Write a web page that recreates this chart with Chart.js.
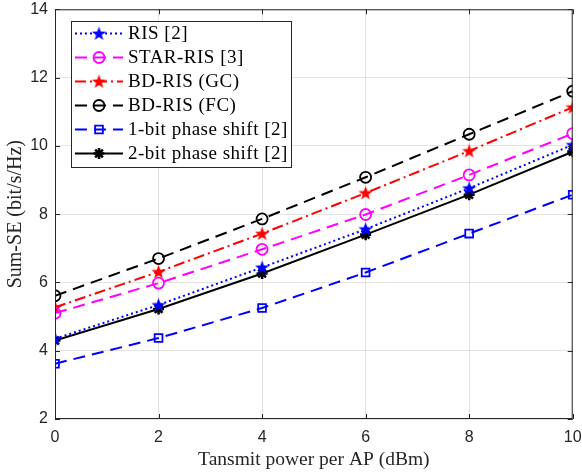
<!DOCTYPE html>
<html>
<head>
<meta charset="utf-8">
<script src="https://cdn.jsdelivr.net/npm/chart.js@4.4.1/dist/chart.umd.min.js"></script>
<style>
  html, body { margin: 0; padding: 0; background: #fff; }
  #wrap { width: 582px; height: 474px; }
</style>
</head>
<body>
<div id="wrap"><canvas id="grafico" width="582" height="474"></canvas></div>
<script>
const potencias = [0, 2, 4, 6, 8, 10];
const yTicks = [2, 4, 6, 8, 10, 12, 14];

const ris      = [4.35, 5.34, 6.44, 7.56, 8.76, 10.03];
const starRis  = [5.10, 5.98, 6.97, 7.99, 9.15, 10.36];
const bdGC     = [5.27, 6.31, 7.43, 8.62, 9.85, 11.13];
const bdFC     = [5.61, 6.70, 7.86, 9.08, 10.34, 11.60];
const bit1     = [3.62, 4.37, 5.25, 6.29, 7.43, 8.57];
const bit2     = [4.30, 5.22, 6.26, 7.40, 8.57, 9.83];

const nomes = ['RIS [2]', 'STAR-RIS [3]', 'BD-RIS (GC)', 'BD-RIS (FC)', '1-bit phase shift [2]', '2-bit phase shift [2]'];

// estrela de 5 pontas preenchida (pentagram do MATLAB)
function criarEstrela(cor, tam) {
  const c = document.createElement('canvas');
  c.width = tam; c.height = tam;
  const ctx = c.getContext('2d');
  const R = tam / 2, r = R * 0.4, cx = tam / 2, cy = tam / 2 + 0.5;
  ctx.beginPath();
  for (let i = 0; i < 10; i++) {
    const ang = -Math.PI / 2 + i * Math.PI / 5;
    const rr = i % 2 === 0 ? R : r;
    const px = cx + rr * Math.cos(ang), py = cy + rr * Math.sin(ang);
    i === 0 ? ctx.moveTo(px, py) : ctx.lineTo(px, py);
  }
  ctx.closePath();
  ctx.fillStyle = cor;
  ctx.fill();
  return c;
}

const estrelaAzul = criarEstrela('#0000ff', 15);
const estrelaVermelha = criarEstrela('#ff0000', 15);

const pts = arr => arr.map((v, i) => ({ x: potencias[i], y: v }));

const base = { borderWidth: 2, pointBorderWidth: 1.8, pointBackgroundColor: 'transparent', tension: 0, fill: false };

const datasets = [
  { ...base, label: nomes[0], data: pts(ris), borderColor: '#0000ff', borderDash: [2, 3],
    pointStyle: estrelaAzul, pointRadius: 7.5, pointBorderColor: '#0000ff' },
  { ...base, label: nomes[1], data: pts(starRis), borderColor: '#ff00ff', borderDash: [12, 7],
    pointStyle: 'circle', pointRadius: 5.5, pointBorderColor: '#ff00ff' },
  { ...base, label: nomes[2], data: pts(bdGC), borderColor: '#ff0000', borderDash: [11, 4, 2, 4],
    pointStyle: estrelaVermelha, pointRadius: 7.5, pointBorderColor: '#ff0000' },
  { ...base, label: nomes[3], data: pts(bdFC), borderColor: '#000000', borderDash: [12, 7],
    pointStyle: 'circle', pointRadius: 5.5, pointBorderColor: '#000000' },
  { ...base, label: nomes[4], data: pts(bit1), borderColor: '#0000ff', borderDash: [12, 7],
    pointStyle: 'rect', pointRadius: 5.5, pointBorderColor: '#0000ff' },
  { ...base, label: nomes[5], data: pts(bit2), borderColor: '#000000', borderDash: [],
    pointStyle: 'star', pointRadius: 5.5, pointBorderWidth: 2.6, pointBorderColor: '#000000' },
];

const corEixo = '#262626';

const pluginMoldura = {
  id: 'moldura',
  afterDatasetsDraw(chart) {
    const { ctx, chartArea: a, scales } = chart;
    ctx.save();
    ctx.strokeStyle = corEixo;
    ctx.lineWidth = 1;
    ctx.setLineDash([]);
    ctx.strokeRect(a.left + 0.5, a.top + 0.5, a.right - a.left - 1, a.bottom - a.top - 1);
    // ticks para dentro nos 4 lados
    ctx.beginPath();
    potencias.forEach(v => {
      const x = Math.round(scales.x.getPixelForValue(v)) + 0.5;
      ctx.moveTo(x, a.bottom); ctx.lineTo(x, a.bottom - 5);
      ctx.moveTo(x, a.top); ctx.lineTo(x, a.top + 5);
    });
    yTicks.forEach(v => {
      const y = Math.round(scales.y.getPixelForValue(v)) + 0.5;
      ctx.moveTo(a.left, y); ctx.lineTo(a.left + 5, y);
      ctx.moveTo(a.right, y); ctx.lineTo(a.right - 5, y);
    });
    ctx.stroke();
    ctx.restore();
  },
  afterDraw(chart) {
    const { ctx } = chart;
    const x0 = 71, y0 = 21, w = 220, linha = 24;
    const h = 146;
    ctx.save();
    ctx.fillStyle = '#fff';
    ctx.fillRect(x0, y0, w, h);
    ctx.strokeStyle = corEixo;
    ctx.lineWidth = 1;
    ctx.strokeRect(x0 + 0.5, y0 + 0.5, w, h);
    ctx.font = '19px "Liberation Serif", serif';
    ctx.letterSpacing = '0.5px';
    chart.data.datasets.forEach((ds, i) => {
      const cy = y0 + 12.5 + i * linha;
      ctx.setLineDash(ds.borderDash);
      ctx.strokeStyle = ds.borderColor;
      ctx.lineWidth = ds.borderWidth;
      ctx.beginPath();
      ctx.moveTo(x0 + 4, cy); ctx.lineTo(x0 + 52, cy);
      ctx.stroke();
      ctx.setLineDash([]);
      ctx.strokeStyle = ds.pointBorderColor;
      ctx.fillStyle = 'transparent';
      ctx.lineWidth = ds.pointBorderWidth;
      Chart.helpers.drawPoint(ctx, { pointStyle: ds.pointStyle, radius: ds.pointRadius, rotation: 0, borderWidth: ds.pointBorderWidth }, x0 + 28, cy);
      ctx.fillStyle = '#000';
      ctx.textBaseline = 'middle';
      ctx.fillText(ds.label, x0 + 57, cy + 1);
    });
    ctx.restore();
  }
};

new Chart(document.getElementById('grafico'), {
  type: 'line',
  data: { datasets },
  plugins: [pluginMoldura],
  options: {
    responsive: false,
    animation: false,
    devicePixelRatio: 1,
    layout: { padding: { top: 7, right: 9, left: 0, bottom: 0 } },
    plugins: { legend: { display: false }, tooltip: { enabled: false } },
    scales: {
      x: {
        type: 'linear', min: 0, max: 10,
        afterFit(s) { s.height = 55; s.paddingLeft = 0; s.paddingRight = 0; },
        afterBuildTicks(s) { s.ticks = potencias.map(v => ({ value: v })); },
        grid: { color: 'rgba(38,38,38,0.13)', drawTicks: false },
        border: { display: false },
        ticks: { color: corEixo, padding: 9, font: { family: '"Liberation Sans", Arial, sans-serif', size: 16 }, maxRotation: 0 },
        title: { display: true, text: 'Tansmit power per AP (dBm)', color: corEixo, padding: { top: 0, bottom: 2 },
          font: { family: '"Liberation Serif", serif', size: 19.5 } }
      },
      y: {
        type: 'linear', min: 2, max: 14,
        afterFit(s) { s.width = 55; s.paddingTop = 0; s.paddingBottom = 0; },
        afterBuildTicks(s) { s.ticks = yTicks.map(v => ({ value: v })); },
        grid: { color: 'rgba(38,38,38,0.13)', drawTicks: false },
        border: { display: false },
        ticks: { color: corEixo, padding: 7, font: { family: '"Liberation Sans", Arial, sans-serif', size: 16 } },
        title: { display: true, text: 'Sum-SE (bit/s/Hz)', color: corEixo, padding: { top: 4, bottom: 0 },
          font: { family: '"Liberation Serif", serif', size: 20 } }
      }
    }
  }
});
</script>
</body>
</html>
